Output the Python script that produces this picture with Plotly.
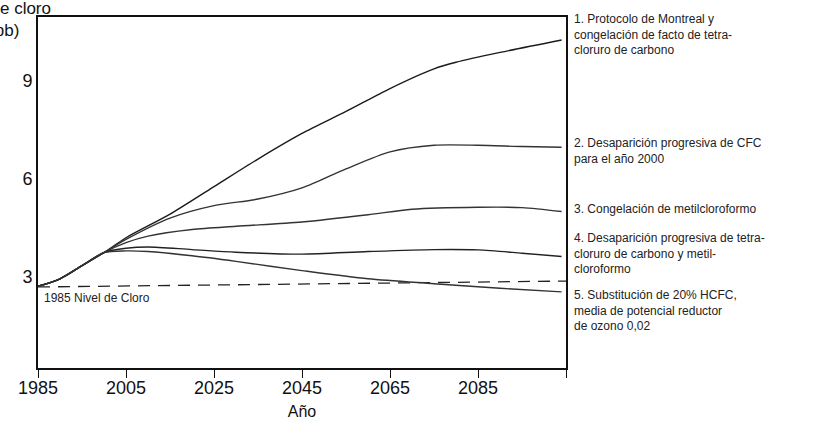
import plotly.graph_objects as go

# years / values (ppb of chlorine)
early_years = [1985, 1990, 1995, 2000]
early_vals = [2.72, 2.95, 3.35, 3.75]

s1_years = [2005, 2015, 2025, 2035, 2045, 2055, 2065, 2075, 2080, 2090, 2104]
s1_vals = [4.20, 4.92, 5.76, 6.60, 7.38, 8.05, 8.75, 9.35, 9.55, 9.85, 10.23]

s2_years = [2005, 2015, 2025, 2035, 2045, 2055, 2065, 2075, 2085, 2095, 2104]
s2_vals = [4.15, 4.80, 5.18, 5.38, 5.72, 6.30, 6.82, 7.02, 7.02, 6.98, 6.96]

s3_years = [2005, 2010, 2020, 2030, 2045, 2060, 2070, 2085, 2095, 2104]
s3_vals = [4.05, 4.25, 4.45, 4.55, 4.68, 4.90, 5.07, 5.13, 5.12, 5.00]

s4_years = [2005, 2010, 2020, 2030, 2045, 2060, 2075, 2085, 2095, 2104]
s4_vals = [3.88, 3.92, 3.84, 3.76, 3.70, 3.78, 3.84, 3.83, 3.73, 3.63]

s5_years = [2005, 2010, 2020, 2030, 2045, 2060, 2075, 2090, 2104]
s5_vals = [3.80, 3.78, 3.65, 3.48, 3.20, 2.95, 2.80, 2.66, 2.55]

base_years = [1985, 2105]
base_vals = [2.70, 2.88]

x_ticks = [1985, 2005, 2025, 2045, 2065, 2085, 2105]
x_labels = ["1985", "2005", "2025", "2045", "2065", "2085", ""]
y_ticks = [3, 6, 9]

labels = [
    ("1. Protocolo de Montreal y<br>congelación de facto de tetra-<br>cloruro de carbono", 18),
    ("2. Desaparición progresiva de CFC<br>para el año 2000", 142),
    ("3. Congelación de metilcloroformo", 208),
    ("4. Desaparición progresiva de tetra-<br>cloruro de carbono y metil-<br>cloroformo", 237),
    ("5. Substitución de 20% HCFC,<br>media de potencial reductor<br>de ozono 0,02", 294),
]

FONT = "Liberation Sans, Arial, sans-serif"
W, H = 821, 430
L, R, T, B = 38, 255, 17, 62
plot_h = H - T - B

fig = go.Figure()

fig.add_trace(go.Scatter(
    x=base_years, y=base_vals, mode="lines",
    line=dict(color="#222", width=1.3, dash="12px,8px"),
))

series = [(s1_years, s1_vals, "#1a1a1a"), (s2_years, s2_vals, "#333"),
          (s3_years, s3_vals, "#333"), (s4_years, s4_vals, "#222"),
          (s5_years, s5_vals, "#333")]
for yrs, vals, col in series:
    fig.add_trace(go.Scatter(
        x=early_years + yrs, y=early_vals + vals, mode="lines",
        line=dict(color=col, width=1.4, shape="spline", smoothing=0.8),
    ))

annotations = []
for text, py in labels:
    annotations.append(dict(
        x=1.011, y=1 - (py - T - 8) / plot_h, xref="paper", yref="paper",
        xanchor="left", yanchor="top", align="left", showarrow=False,
        text=text, font=dict(family=FONT, size=12, color="#222"),
    ))

annotations.append(dict(
    x=1986, y=2.65, xref="x", yref="y", xanchor="left", yanchor="top",
    showarrow=False, text="1985 Nivel de Cloro",
    font=dict(family=FONT, size=12, color="#222"),
))
# y title is cut off at the left edge in the original scan
annotations.append(dict(
    x=-0.072, y=1 - 3 / plot_h, xref="paper", yref="paper",
    xanchor="center", yanchor="middle", align="center", showarrow=False,
    text="Nivel de cloro<br>(ppb)", font=dict(family=FONT, size=17, color="#111"),
))

fig.update_layout(
    width=W, height=H,
    margin=dict(l=L, r=R, t=T, b=B),
    paper_bgcolor="white", plot_bgcolor="white",
    showlegend=False,
    annotations=annotations,
    font=dict(family=FONT, color="#111"),
)
fig.update_xaxes(
    range=[1985, 2105], tickvals=x_ticks, ticktext=x_labels,
    ticks="outside", ticklen=8, tickcolor="#111", tickwidth=1,
    ticklabelstandoff=-5,
    showline=True, linecolor="#111", linewidth=1.6, mirror=True,
    showgrid=False, zeroline=False, tickfont=dict(size=18), automargin=False,
    title=dict(text="Año", font=dict(size=16), standoff=8),
)
fig.update_yaxes(
    range=[0.23, 10.93], tickvals=y_ticks, automargin=False,
    ticks="", showline=True, linecolor="#111", linewidth=1.6, mirror=True,
    showgrid=False, zeroline=False, tickfont=dict(size=18),
)

# drop the default page margin so the figure sits at the window's corner
fig.write_html("out.html", config={"displayModeBar": False},
               post_script="document.body.style.margin='0';")
